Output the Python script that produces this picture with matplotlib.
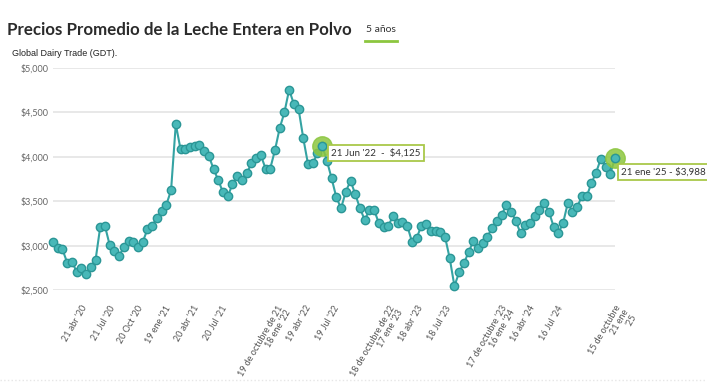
import matplotlib
matplotlib.use("Agg")
import matplotlib.pyplot as plt
import pandas as pd

# GDT whole milk powder average price (USD/t)
prices = [3045, 2977, 2958, 2808, 2820, 2707, 2752, 2684, 2763, 2834,
          3210, 3221, 3007, 2940, 2883, 2985, 3052, 3045, 2985, 3041,
          3184, 3221, 3316, 3391, 3459,
          3624, 4368, 4086, 4086, 4105, 4124, 4131, 4068, 4011, 3861,
          3737, 3598, 3553, 3692, 3786, 3737, 3812, 3925, 3992, 4019,
          3868, 3868, 4075, 4323, 4500,
          4756, 4594, 4538, 4207, 3917, 3928, 4040, 4125, 3955, 3756,
          3542, 3421, 3609, 3729, 3579, 3421, 3289, 3402, 3402, 3252,
          3214, 3222, 3334,
          3260, 3263, 3226, 3045, 3083, 3226, 3241, 3169, 3166, 3158,
          3102, 2857, 2545, 2699, 2801, 2925, 3053, 2970, 3027, 3102,
          3203, 3278, 3346, 3459, 3384, 3278, 3139, 3233, 3260, 3338,
          3402, 3478, 3384, 3214, 3139, 3252, 3478, 3384, 3440, 3553,
          3553, 3703, 3823, 3978, 3884, 3805, 3988]
start_date = "2020-01-21"
end_date = "2025-01-21"

tick_dates = ["2020-04-21", "2020-07-21", "2020-10-20", "2021-01-19",
              "2021-04-20", "2021-07-20", "2022-01-18", "2022-04-19",
              "2022-07-19", "2023-01-17", "2023-04-18", "2023-07-18",
              "2024-01-16", "2024-04-16", "2024-07-16", "2025-01-21"]
tick_labels = ["21 abr '20", "21 Jul '20", "20 Oct '20", "19 ene '21",
               "20 abr '21", "20 Jul '21", "19 de octubre de 21\n18 ene '22",
               "19 abr '22", "19 Jul '22", "18 de octubre de 22\n17 ene '23",
               "18 abr '23", "18 Jul '23", "17 de octubre '23\n16 ene '24",
               "16 abr '24", "16 Jul '24", "15 de octubre\n21 ene\n'25"]

y_ticks = [2500, 3000, 3500, 4000, 4500, 5000]
y_labels = ["$2,500", "$3,000", "$3,500", "$4,000", "$4,500", "$5,000"]

# highlighted points (index into prices) and their tooltip text
hl_idx = [57, 119]
hl_text = ["21 Jun '22  -  $4,125", "21 ene '25 - $3,988"]
hl_offsets = [(6.5, -5), (4.5, -10)]

dates = pd.date_range(start_date, end_date, periods=len(prices))

fig = plt.figure(figsize=(7.07, 3.82), dpi=100)
ax = fig.add_axes([53 / 707, 92 / 382, 562 / 707, 222 / 382])

for yt in y_ticks:
    ax.axhline(yt, color="#e8e8e8", lw=1.4, zorder=0)

ax.plot(dates, prices, color="#35a3a3", lw=1.5, marker="o", markersize=6,
        markerfacecolor="#48b8b8", markeredgecolor="#2b9696",
        markeredgewidth=1.0, clip_on=False, zorder=3)

# highlight halos + tooltips
for i, txt, off in zip(hl_idx, hl_text, hl_offsets):
    ax.plot(dates[i], prices[i], "o", markersize=14, color="#8cc63f",
            alpha=0.85, clip_on=False, zorder=4)
    ax.plot(dates[i], prices[i], "o", markersize=6, markerfacecolor="#48b8b8",
            markeredgecolor="#2b9696", markeredgewidth=1.0, clip_on=False, zorder=5)
    ax.annotate(txt, (dates[i], prices[i]), xytext=off,
                textcoords="offset points", ha="left", va="center",
                fontsize=7, family="Lato", color="#333333", zorder=6,
                bbox=dict(boxstyle="square,pad=0.35", fc="white",
                          ec="#a9c84a", lw=1.3),
                annotation_clip=False)

ax.set_ylim(2500, 5000)
ax.set_xlim(dates[0], dates[-1])
ax.set_yticks(y_ticks)
ax.set_yticklabels(y_labels, family="Lato", fontsize=6.5, color="#666666")
ax.set_xticks(pd.to_datetime(tick_dates))
ax.set_xticklabels(tick_labels, rotation=60, ha="right", va="top",
                   rotation_mode="anchor", family="Lato", fontsize=6.5,
                   color="#555555", multialignment="right", linespacing=1.0)
ax.tick_params(axis="both", length=0)
ax.tick_params(axis="x", pad=10)
ax.tick_params(axis="y", pad=3)
for s in ax.spines.values():
    s.set_visible(False)

# header texts
fig.text(7 / 707, 1 - 30 / 382, "Precios Promedio de la Leche Entera en Polvo",
         family="Lato", fontweight="bold", fontsize=12.2, color="#2b2b2b",
         va="center", ha="left")
fig.text(381 / 707, 1 - 30 / 382, "5 años", family="Lato", fontsize=7.5,
         color="#333333", va="center", ha="center")
fig.add_artist(plt.Line2D([365 / 707, 397 / 707], [1 - 41 / 382, 1 - 41 / 382],
                          color="#8cc63f", lw=2))
fig.text(12 / 707, 1 - 53 / 382, "Global Dairy Trade (GDT).",
         family="Liberation Sans", fontsize=6.5, color="#222222",
         va="center", ha="left")
fig.add_artist(plt.Line2D([0, 1], [1 - 380 / 382, 1 - 380 / 382],
                          color="#e6e6e6", lw=1, ls=":"))

fig.savefig("out.png", dpi=100)
